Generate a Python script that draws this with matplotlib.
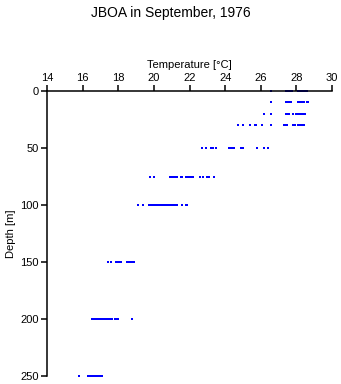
import matplotlib
matplotlib.use("Agg")
import matplotlib.pyplot as plt

plt.rcParams['font.family'] = ['Liberation Sans', 'DejaVu Sans']

# Temperature readings (°C) at each sampled depth (m)
depths = [0, 10, 20, 30, 50, 75, 100, 150, 200, 250]
temps = [
    [26.6, 27.4, 27.5, 27.6, 27.7, 27.75, 28.1, 28.2, 28.3, 28.4, 28.5, 28.6],
    [26.6, 27.4, 27.5, 27.6, 27.7, 28.1, 28.2, 28.3, 28.4, 28.6, 28.65],
    [26.2, 26.6, 27.4, 27.5, 27.6, 27.8, 28.0, 28.1, 28.2, 28.3, 28.4, 28.5],
    [24.7, 24.75, 25.0, 25.4, 25.65, 25.75, 26.05, 26.6, 27.3, 27.4, 27.5,
     27.8, 27.9, 28.1, 28.2, 28.3, 28.4],
    [22.7, 22.9, 23.2, 23.3, 23.5, 24.2, 24.3, 24.4, 24.5, 24.9, 25.0,
     25.8, 26.2, 26.4],
    [19.8, 20.0, 20.9, 21.0, 21.1, 21.2, 21.3, 21.55, 21.6, 21.8, 21.9,
     22.0, 22.1, 22.2, 22.6, 22.75, 23.0, 23.1, 23.35, 23.4],
    [19.1, 19.4, 19.7, 19.8, 19.9, 20.0, 20.1, 20.2, 20.3, 20.4, 20.5, 20.6,
     20.7, 20.8, 20.9, 21.0, 21.1, 21.2, 21.3, 21.6, 21.8, 21.85],
    [17.45, 17.6, 17.85, 17.95, 18.05, 18.15, 18.5, 18.6, 18.7, 18.8, 18.9],
    [16.55, 16.65, 16.75, 16.85, 16.95, 17.05, 17.15, 17.25, 17.35, 17.45,
     17.55, 17.65, 17.8, 17.9, 18.0, 18.75],
    [15.8, 16.3, 16.4, 16.5, 16.6, 16.7, 16.8, 16.9, 17.0, 17.1],
]
x_ticks = [14, 16, 18, 20, 22, 24, 26, 28, 30]
y_ticks = [0, 50, 100, 150, 200, 250]

fig = plt.figure(figsize=(3.41, 3.84), dpi=100)
ax = fig.add_axes([47 / 341, 1 - 376 / 384, 285 / 341, 285 / 384])

for d, t in zip(depths, temps):
    ax.plot(t, [d] * len(t), 's', color='#0000ff', ms=2.1, mew=0,
            clip_on=False)

ax.set_xlim(14, 30)
ax.set_ylim(250, 0)
ax.set_xticks(x_ticks)
ax.set_yticks(y_ticks)
ax.xaxis.tick_top()
ax.xaxis.set_label_position('top')
ax.spines['right'].set_visible(False)
ax.spines['bottom'].set_visible(False)
for s in ('top', 'left'):
    ax.spines[s].set_linewidth(1.1)
ax.tick_params(direction='out', length=4, width=1.1, labelsize=8, pad=2)
ax.set_xlabel('Temperature [°C]', fontsize=8, labelpad=3)
ax.set_ylabel('Depth [m]', fontsize=8, labelpad=3)

fig.text(0.5, 1 - 13 / 384, 'JBOA in September, 1976', ha='center',
         va='center', fontsize=10)

fig.savefig('out.png', dpi=100)
